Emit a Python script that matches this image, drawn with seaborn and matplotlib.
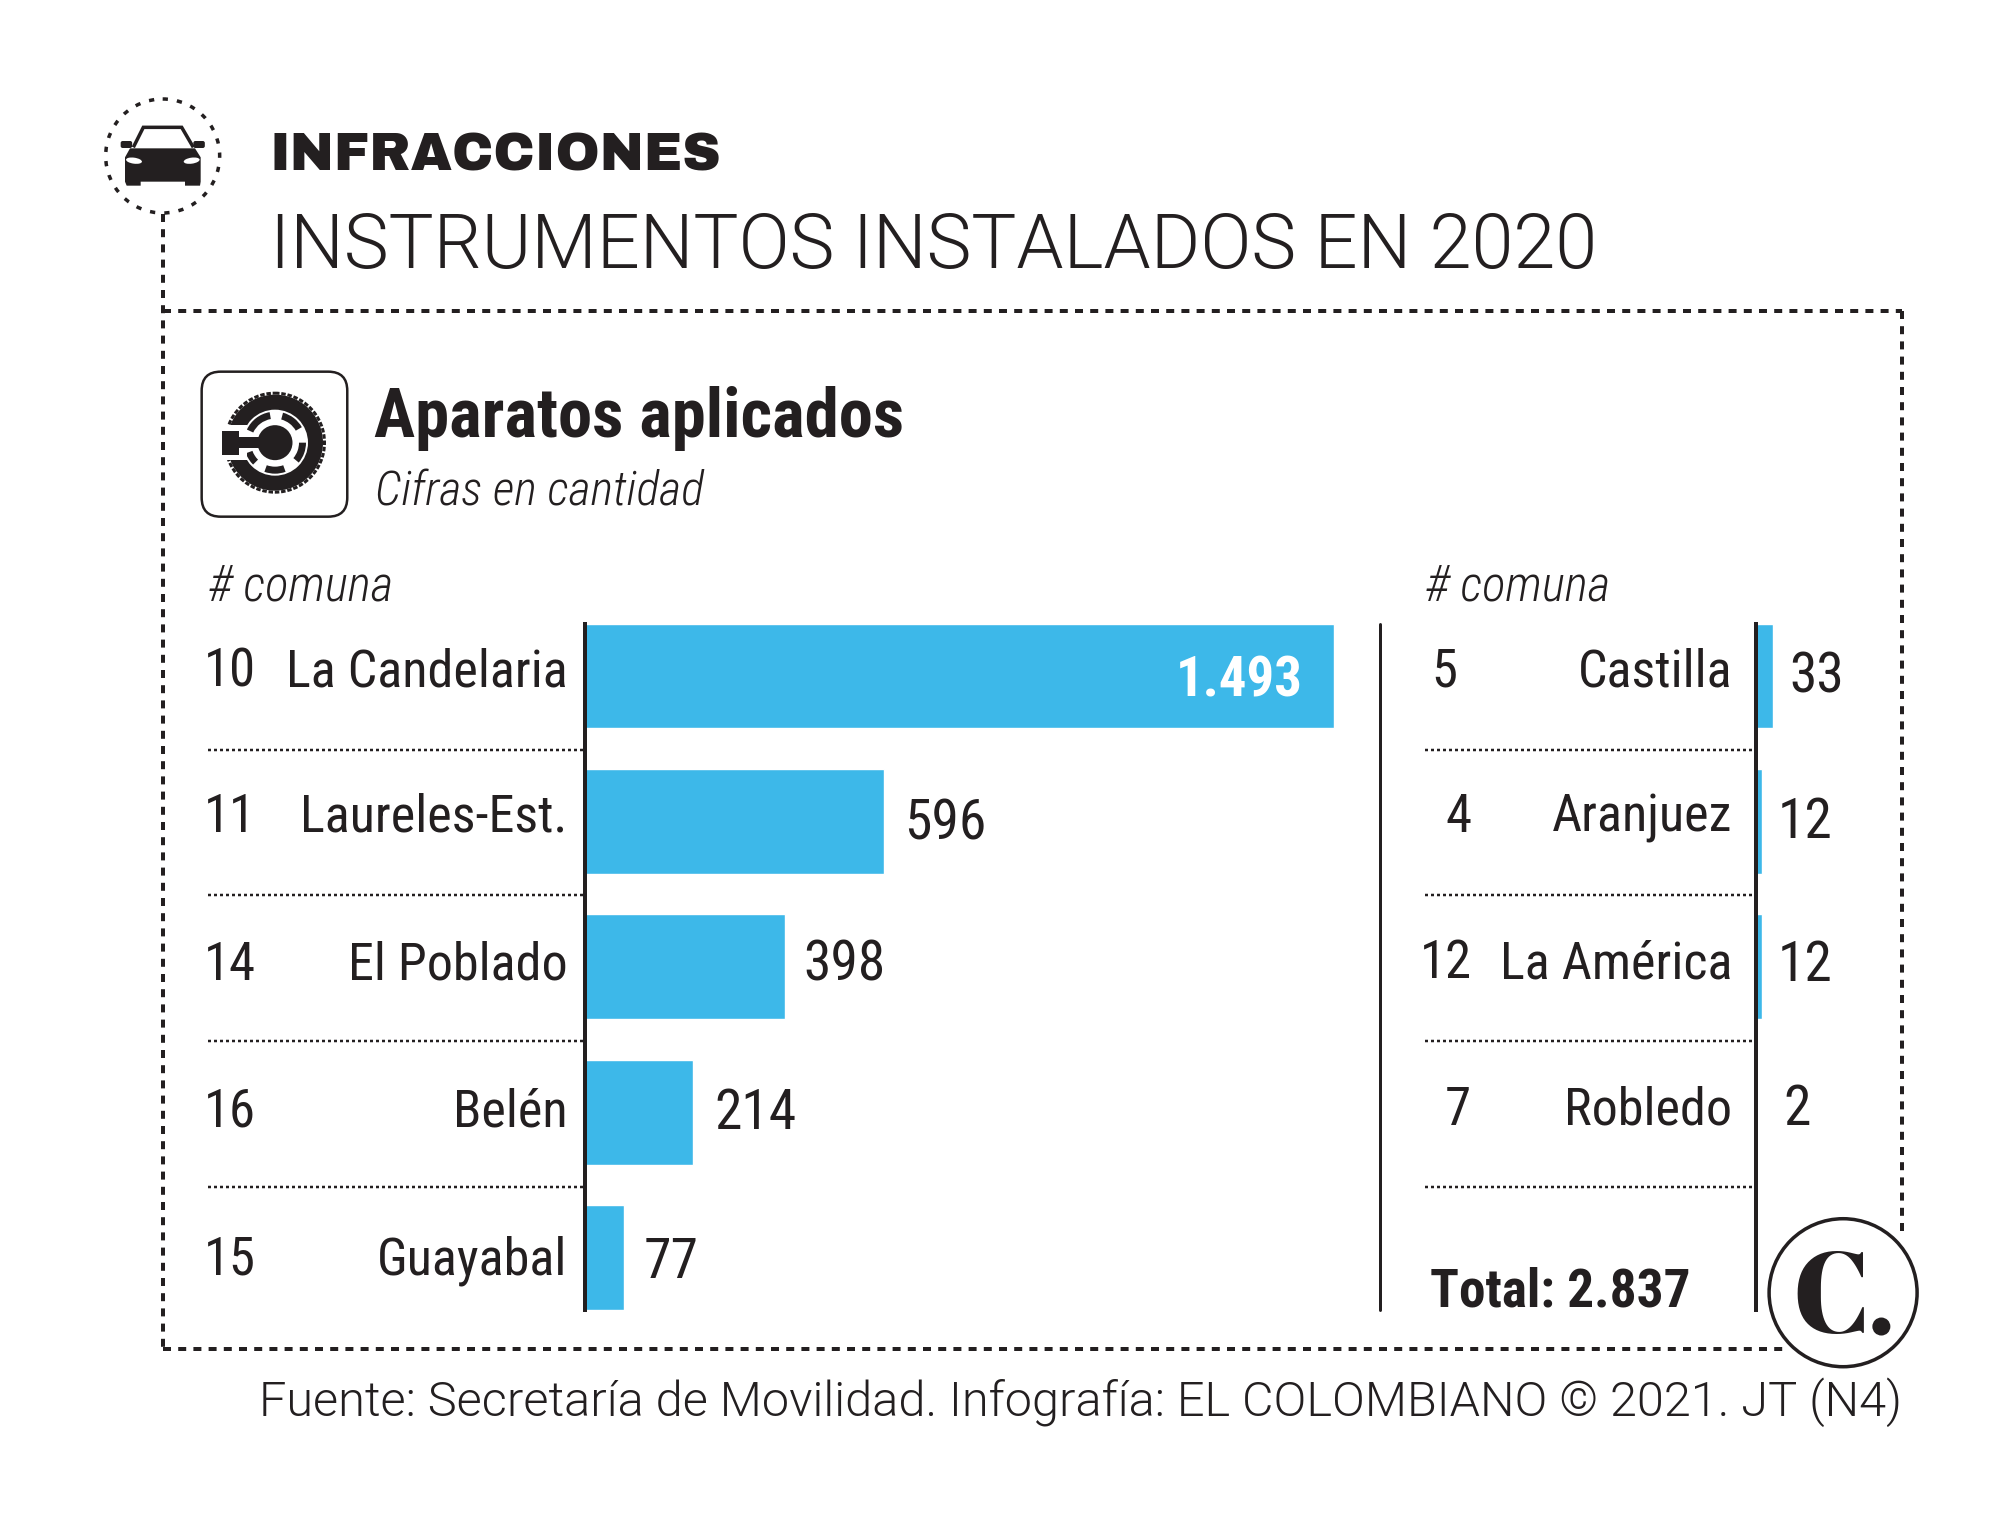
import logging
import matplotlib
matplotlib.use("Agg")
import matplotlib.pyplot as plt
from matplotlib.patches import Circle, Ellipse, FancyBboxPatch, Polygon, Rectangle, Wedge
import pandas as pd
import seaborn as sns

logging.getLogger("matplotlib.font_manager").setLevel(logging.ERROR)

### data
comunas_izq = ["La Candelaria", "Laureles-Est.", "El Poblado", "Belén", "Guayabal"]
numeros_izq = ["10", "11", "14", "16", "15"]
valores_izq = [1493, 596, 398, 214, 77]
etiquetas_izq = ["1.493", "596", "398", "214", "77"]

comunas_der = ["Castilla", "Aranjuez", "La América", "Robledo"]
numeros_der = ["5", "4", "12", "7"]
valores_der = [33, 12, 12, 2]
etiquetas_der = ["33", "12", "12", "2"]

titulo = "INFRACCIONES"
subtitulo = "INSTRUMENTOS INSTALADOS EN 2020"
titulo_panel = "Aparatos aplicados"
unidad = "Cifras en cantidad"
encabezado = "# comuna"
total = "Total: 2.837"
fuente = "Fuente: Secretaría de Movilidad. Infografía: EL COLOMBIANO © 2021. JT (N4)"

AZUL = "#3DB8E9"
NEGRO = "#231F20"
NARROW = ["Roboto Condensed", "Liberation Sans", "DejaVu Sans"]
LIGHT = ["Roboto", "Liberation Sans", "DejaVu Sans"]
BLACK = ["Archivo Black", "DejaVu Sans"]
DIDONE = ["Abril Fatface", "Liberation Serif"]

sns.set_theme(style="white")
plt.rcParams["font.family"] = NARROW

W, H = 2000, 1516
K = 1.2755  # de coordenadas leidas a pixeles
fig = plt.figure(figsize=(W / 100, H / 100), dpi=100, facecolor="white")

### capa de fondo en pixeles
bg = fig.add_axes([0, 0, 1, 1])
bg.set_xlim(0, W)
bg.set_ylim(H, 0)
bg.axis("off")


def px(v):
    return v * 0.72


def z(x, y):
    return (80 + x / 3, 70 + y / 3)


def linea(xs, ys, lw=4, patron=(2.0, 1.8), **kw):
    bg.plot([v * K for v in xs], [v * K for v in ys], color=NEGRO, lw=px(lw), linestyle=(0, patron),
            dash_capstyle="butt", **kw)


def texto(x, y, s, size, **kw):
    kw.setdefault("color", NEGRO)
    kw.setdefault("va", "baseline")
    return bg.text(x * K, y * K, s, fontsize=size, **kw)


### marco punteado
linea([127.5, 127.5], [168, 1058])
linea([127.5, 1491], [244, 244])
linea([1491, 1491], [244, 970])
linea([127.5, 1400], [1058, 1058])

### icono carro
bg.add_patch(Circle(z(248, 258), 57, fill=False, ec=NEGRO, lw=px(3.5), ls=(0, (1.5, 2.6))))
bg.add_patch(Polygon([z(*p) for p in [(160, 232), (190, 172), (305, 172), (340, 232)]], closed=False,
                     fill=False, ec=NEGRO, lw=px(3.5)))
bg.add_patch(Polygon([z(*p) for p in [(135, 262), (150, 235), (345, 235), (362, 262), (362, 335), (360, 347),
                                      (315, 347), (315, 335), (182, 335), (182, 347), (140, 347), (135, 335)]],
                     fc=NEGRO, lw=0))
for mx in [122, 340]:
    bg.add_patch(FancyBboxPatch(z(mx, 213), 11.5, 7, boxstyle="round,pad=0,rounding_size=2", fc=NEGRO, lw=0))
bg.add_patch(Ellipse(z(162, 272), 16, 6, angle=8, fc="white", lw=0))
bg.add_patch(Ellipse(z(335, 272), 16, 6, angle=-8, fc="white", lw=0))

### icono llanta
bg.add_patch(FancyBboxPatch(z(365, 905), 145.6, 145, boxstyle="round,pad=0,rounding_size=19",
                            fill=False, ec=NEGRO, lw=px(2.5)))
centro = z(585, 1118)
bg.add_patch(Circle(centro, 48, fc=NEGRO, lw=0))
bg.add_patch(Circle(centro, 49.5, fill=False, ec=NEGRO, lw=px(3), ls=(0, (1.5, 0.6))))
bg.add_patch(Circle(centro, 33, fc="white", lw=0))
for a1, a2 in [(-155, -100), (-75, -30), (0, 40), (70, 110), (135, 160)]:
    bg.add_patch(Wedge(centro, 31, a1, a2, width=7, fc=NEGRO, lw=0))
bg.add_patch(Rectangle(z(410, 1065), 30, 35, fc="white", lw=0))
bg.add_patch(Circle(centro, 17.5, fc=NEGRO, lw=0))
bg.add_patch(Rectangle(z(425, 1082), 17.7, 24.3, fc=NEGRO, lw=0))
bg.add_patch(Rectangle(z(478, 1100), 21, 11.7, fc=NEGRO, lw=0))

### titulos
texto(211, 134, titulo, 38.3, family=BLACK)
texto(212, 210, subtitulo, 54.4, family=LIGHT, weight=300)
texto(293, 343, titulo_panel, 49.5, weight="bold")
texto(294, 396, unidad, 34.6, style="italic", weight=300)
texto(163, 471, encabezado, 35.4, style="italic", weight=300)
texto(1117, 471, encabezado, 35.4, style="italic", weight=300)

### barras
filas_izq = [538, 652, 768, 883, 999]
filas_der = [538, 652, 767, 882]
x0_izq, x0_der, top, bottom = 459 * K, 1377 * K, 489 * K, 1027 * K
ESCALA = (1045.5 - 459) * K / 1493

# ajuste fino de las etiquetas, en pixeles
ajuste_x_izq = [0, 20, 18, 22, 20]
ajuste_y_izq = [-5, -3, 2, -1, -5]
ajuste_x_der = [16, 15, 15, 26]
ajuste_y_der = [-1, -1, 1, 3]


def panel(x0, ancho, comunas, valores, etiquetas, ajuste_x, ajuste_y):
    ax = fig.add_axes([x0 / W, 1 - bottom / H, ancho / W, (bottom - top) / H])
    df = pd.DataFrame({"comuna": comunas, "valor": valores})
    sns.barplot(data=df, x="valor", y="comuna", color=AZUL, saturation=1, width=0.72, ax=ax)
    ax.set_xlim(0, ancho / ESCALA)
    ax.set_ylim(4.36, -0.36)
    ax.set_xlabel("")
    ax.set_ylabel("")
    ax.set_xticks([])
    ax.set_yticks([])
    ax.patch.set_alpha(0)
    sns.despine(ax=ax, top=True, right=True, bottom=True)
    ax.spines["left"].set_linewidth(px(4))
    ax.spines["left"].set_color(NEGRO)
    for i, (v, e) in enumerate(zip(valores, etiquetas)):
        if v > 1000:
            ax.annotate(e, (v, i), xytext=(-px(31), px(ajuste_y[i])), textcoords="offset points", ha="right",
                        va="center", fontsize=39.5, weight="bold", color="white")
        else:
            ax.annotate(e, (v, i), xytext=(px(ajuste_x[i]), px(ajuste_y[i])), textcoords="offset points",
                        ha="left", va="center", fontsize=40, color=NEGRO)
    return ax


panel(x0_izq, 790, comunas_izq, valores_izq, etiquetas_izq, ajuste_x_izq, ajuste_y_izq)
panel(x0_der, 130, comunas_der, valores_der, etiquetas_der, ajuste_x_der, ajuste_y_der)

### filas de nombres
for y, n, c in zip(filas_izq, numeros_izq, comunas_izq):
    texto(160, y, n, 38)
    texto(445, y, c, 37.5, ha="right")
xs_num_der = [1122, 1133, 1113, 1133]
for y, xn, n, c in zip(filas_der, xs_num_der, numeros_der, comunas_der):
    texto(xn, y, n, 38)
    texto(1358, y, c, 37.5, ha="right")

### separadores
for y in [588, 702, 816, 931]:
    linea([163, 459], [y, y], lw=2.5, patron=(1.2, 1.2))
    linea([1117, 1377], [y, y], lw=2.5, patron=(1.2, 1.2))
bg.plot([1082 * K, 1082 * K], [top, bottom], color=NEGRO, lw=px(3))

texto(1121, 1024, total, 38.3, weight="bold")

### logo
bg.add_patch(Circle((1445 * K, 1013.5 * K), 74, fc="white", ec=NEGRO, lw=px(3.5), zorder=5))
texto(1405, 1045, "C", 82, family=DIDONE, zorder=6)
bg.add_patch(Circle((1475 * K, 1040 * K), 9, fc=NEGRO, lw=0, zorder=6))

texto(1491, 1110, fuente, 35, family=LIGHT, weight=300, ha="right")

fig.savefig("out.png", dpi=100)
